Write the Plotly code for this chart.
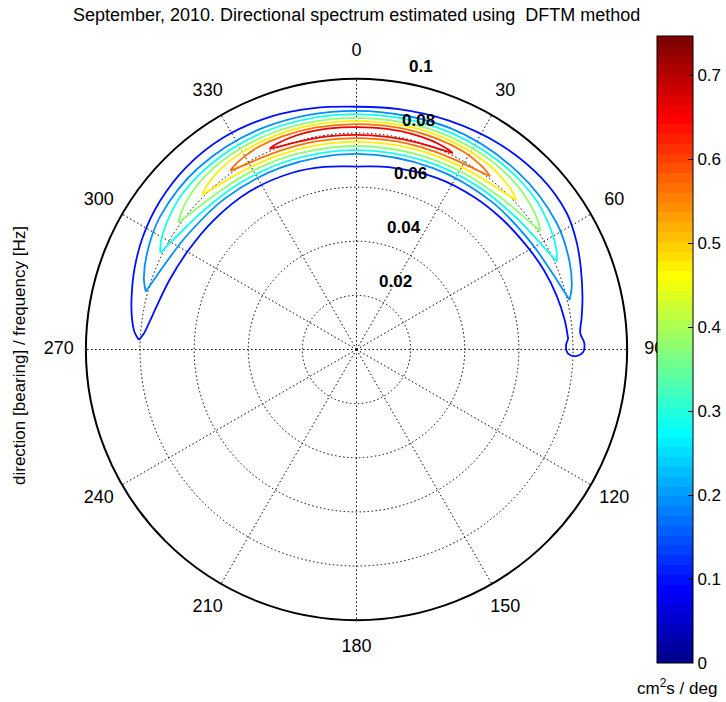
import math
import plotly.graph_objects as go

# ---------------- text ----------------
TITLE = "September, 2010. Directional spectrum estimated using  DFTM method"
Y_LABEL = "direction [bearing] / frequency [Hz]"
CB_TITLE = "cm<sup>2</sup>s / deg"

# ---------------- axes / scale values ----------------
ANGLE_TICKS = [0, 30, 60, 90, 120, 150, 180, 210, 240, 270, 300, 330]
ANGLE_TICK_TEXT = ["0", "30", "60", "90", "120", "150", "180", "210", "240", "270", "300", "330"]
RADIAL_TICKS = [0.02, 0.04, 0.06, 0.08, 0.1]
RADIAL_TICK_TEXT = ["0.02", "0.04", "0.06", "0.08", "0.1"]
R_MAX = 0.1
C_MIN = 0.0
C_MAX = 0.747
CB_TICKS = [0, 0.1, 0.2, 0.3, 0.4, 0.5, 0.6, 0.7]
CB_TICK_TEXT = ["0", "0.1", "0.2", "0.3", "0.4", "0.5", "0.6", "0.7"]

# contour levels (cm^2 s / deg)
LEVELS = [0.094, 0.187, 0.281, 0.374, 0.467, 0.561, 0.654]

# ---------------- contour lines: bearing [deg] / frequency [Hz] ----------------
# level 1
L1_outer_brg = [-87.5, -85.5, -82, -77, -70, -62, -53, -43, -32, -20, -10, 0, 10, 22, 35, 47, 57, 64, 70, 77, 82, 85.8, 88.4, 90.6, 91.7, 91.2, 89.0, 87.2]
L1_outer_hz = [0.0805, 0.0823, 0.0838, 0.0853, 0.0873, 0.0893, 0.0910, 0.0922, 0.0925, 0.0917, 0.0906, 0.0897, 0.0902, 0.0912, 0.0925, 0.0932, 0.0926, 0.0905, 0.0882, 0.0857, 0.0840, 0.0829, 0.0842, 0.0838, 0.0812, 0.0783, 0.0774, 0.0783]
L1_inner_brg = [-87.5, -86, -83, -78, -70, -60, -48, -34, -20, -10, 0, 10, 25, 38, 48, 58, 67, 75, 82, 87.2]
L1_inner_hz = [0.0805, 0.0790, 0.0774, 0.0756, 0.0738, 0.0722, 0.0712, 0.0705, 0.0695, 0.0685, 0.0676, 0.0684, 0.0700, 0.0712, 0.0722, 0.0735, 0.0752, 0.0766, 0.0777, 0.0783]
# level 2
L2_outer_brg = [-74.6, -71.6, -65.6, -56.0, -41.0, -22.4, 0, 23.1, 42.3, 57.7, 67.7, 73.8, 76.9]
L2_outer_hz = [0.0808, 0.0828, 0.0851, 0.0876, 0.0890, 0.0889, 0.0882, 0.0888, 0.0886, 0.0875, 0.0851, 0.0828, 0.0808]
L2_inner_brg = [-74.6, -71.6, -65.6, -56.0, -41.0, -22.4, 0, 23.1, 42.3, 57.7, 67.7, 73.8, 76.9]
L2_inner_hz = [0.0808, 0.0794, 0.0774, 0.0755, 0.0740, 0.0728, 0.0723, 0.0728, 0.0740, 0.0755, 0.0774, 0.0794, 0.0808]
# level 3
L3_outer_brg = [-63.8, -61.2, -56.1, -47.9, -35.1, -19.1, 0, 19.9, 36.5, 49.7, 58.3, 63.6, 66.3]
L3_outer_hz = [0.0808, 0.0825, 0.0844, 0.0864, 0.0872, 0.0873, 0.0870, 0.0873, 0.0872, 0.0864, 0.0844, 0.0825, 0.0808]
L3_inner_brg = [-63.8, -61.2, -56.1, -47.9, -35.1, -19.1, 0, 19.9, 36.5, 49.7, 58.3, 63.6, 66.3]
L3_inner_hz = [0.0808, 0.0797, 0.0780, 0.0764, 0.0751, 0.0741, 0.0737, 0.0741, 0.0751, 0.0764, 0.0780, 0.0797, 0.0808]
# level 4
L4_outer_brg = [-54.5, -52.3, -48.0, -40.9, -30.0, -16.4, 0, 17.2, 31.5, 42.9, 50.3, 54.9, 57.2]
L4_outer_hz = [0.0808, 0.0821, 0.0836, 0.0851, 0.0858, 0.0858, 0.0856, 0.0858, 0.0858, 0.0851, 0.0836, 0.0821, 0.0808]
L4_inner_brg = [-54.5, -52.3, -48.0, -40.9, -30.0, -16.4, 0, 17.2, 31.5, 42.9, 50.3, 54.9, 57.2]
L4_inner_hz = [0.0808, 0.0799, 0.0786, 0.0773, 0.0763, 0.0755, 0.0752, 0.0755, 0.0763, 0.0773, 0.0786, 0.0799, 0.0808]
# level 5
L5_outer_brg = [-44.8, -43.0, -39.4, -33.6, -24.6, -13.4, 0, 14.1, 25.8, 35.2, 41.3, 45.0, 46.9]
L5_outer_hz = [0.0808, 0.0818, 0.0829, 0.0840, 0.0845, 0.0846, 0.0844, 0.0846, 0.0845, 0.0840, 0.0829, 0.0818, 0.0808]
L5_inner_brg = [-44.8, -43.0, -39.4, -33.6, -24.6, -13.4, 0, 14.1, 25.8, 35.2, 41.3, 45.0, 46.9]
L5_inner_hz = [0.0808, 0.0801, 0.0792, 0.0783, 0.0775, 0.0770, 0.0767, 0.0770, 0.0775, 0.0783, 0.0792, 0.0801, 0.0808]
# level 6
L6_outer_brg = [-35.2, -33.8, -31.0, -26.4, -19.4, -10.6, 0, 11.3, 20.7, 28.2, 33.1, 36.1, 37.6]
L6_outer_hz = [0.0808, 0.0815, 0.0823, 0.0831, 0.0834, 0.0834, 0.0833, 0.0834, 0.0834, 0.0831, 0.0823, 0.0815, 0.0808]
L6_inner_brg = [-35.2, -33.8, -31.0, -26.4, -19.4, -10.6, 0, 11.3, 20.7, 28.2, 33.1, 36.1, 37.6]
L6_inner_hz = [0.0808, 0.0804, 0.0797, 0.0791, 0.0786, 0.0783, 0.0781, 0.0783, 0.0786, 0.0791, 0.0797, 0.0804, 0.0808]
# level 7
L7_outer_brg = [-23.4, -22.5, -20.6, -17.6, -12.9, -7.0, 0, 7.8, 14.4, 19.6, 23.0, 25.1, 26.1]
L7_outer_hz = [0.0808, 0.0812, 0.0816, 0.0820, 0.0823, 0.0823, 0.0822, 0.0823, 0.0823, 0.0820, 0.0816, 0.0812, 0.0808]
L7_inner_brg = [-23.4, -22.5, -20.6, -17.6, -12.9, -7.0, 0, 7.8, 14.4, 19.6, 23.0, 25.1, 26.1]
L7_inner_hz = [0.0808, 0.0806, 0.0802, 0.0799, 0.0796, 0.0794, 0.0793, 0.0794, 0.0796, 0.0799, 0.0802, 0.0806, 0.0808]

CONTOURS = [
    (L1_outer_brg, L1_outer_hz, L1_inner_brg, L1_inner_hz),
    (L2_outer_brg, L2_outer_hz, L2_inner_brg, L2_inner_hz),
    (L3_outer_brg, L3_outer_hz, L3_inner_brg, L3_inner_hz),
    (L4_outer_brg, L4_outer_hz, L4_inner_brg, L4_inner_hz),
    (L5_outer_brg, L5_outer_hz, L5_inner_brg, L5_inner_hz),
    (L6_outer_brg, L6_outer_hz, L6_inner_brg, L6_inner_hz),
    (L7_outer_brg, L7_outer_hz, L7_inner_brg, L7_inner_hz),
]

# ---------------- style ----------------
W, H = 726, 702
CX, CY, RPX = 357.0, 349.5, 271.0   # polar centre / radius in pixels
RLAB = 320.0                        # radius (px) of the label-carrying polar frame
FONT = "Liberation Sans, Arial, Helvetica, sans-serif"


def jet64():
    """MATLAB jet(64) colormap as a list of rgb tuples (0-1)."""
    m, n = 64, 16
    u = [(i + 1) / n for i in range(n)] + [1.0] * (n - 1) + [(n - i) / n for i in range(n)]
    r = [0.0] * m
    g = [0.0] * m
    b = [0.0] * m
    for j, val in enumerate(u):
        gi = 8 + j
        if 0 <= gi < m:
            g[gi] = val
        if 0 <= gi + n < m:
            r[gi + n] = val
        if 0 <= gi - n < m:
            b[gi - n] = val
    return list(zip(r, g, b))


JET = jet64()


def rgb(c):
    return "rgb(%d,%d,%d)" % tuple(round(v * 255) for v in c)


def level_color(v):
    idx = int((v - C_MIN) / (C_MAX - C_MIN) * len(JET))
    idx = max(0, min(len(JET) - 1, idx))
    return rgb(JET[idx])


colorscale = []
for i, c in enumerate(JET):
    colorscale.append([i / len(JET), rgb(c)])
    colorscale.append([(i + 1) / len(JET), rgb(c)])

fig = go.Figure()

for lev, (ob, oh, ib, ih) in zip(LEVELS, CONTOURS):
    fig.add_trace(go.Scatterpolar(
        theta=list(ob) + [None] + list(ib),
        r=list(oh) + [None] + list(ih),
        mode="lines",
        line=dict(color=level_color(lev), width=1.8, shape="spline", smoothing=1.0),
        hoverinfo="skip",
        showlegend=False,
        subplot="polar",
    ))

# angular tick labels at 1.1 * rmax (MATLAB polar style), drawn in a larger
# transparent polar frame so the colour bar can overlap them like the original
fig.add_trace(go.Scatterpolar(
    r=[1.1 * R_MAX] * len(ANGLE_TICKS), theta=ANGLE_TICKS,
    mode="text", text=ANGLE_TICK_TEXT, textposition="middle center",
    textfont=dict(family=FONT, size=18, color="black"),
    cliponaxis=False, hoverinfo="skip", showlegend=False,
    subplot="polar2",
))

# colour bar carrier
fig.add_trace(go.Scatterpolar(
    r=[0], theta=[0], mode="markers",
    marker=dict(size=1, opacity=0, color=[C_MIN], cmin=C_MIN, cmax=C_MAX,
                colorscale=colorscale, showscale=True,
                colorbar=dict(
                    x=656.7 / W, xanchor="left", xpad=0,
                    y=1 - 663 / H, yanchor="bottom", ypad=0,
                    len=(663 - 36) / H, lenmode="fraction",
                    thickness=36, thicknessmode="pixels",
                    outlinecolor="black", outlinewidth=1,
                    tickvals=CB_TICKS, ticktext=CB_TICK_TEXT,
                    ticks="inside", ticklen=5, tickcolor="black",
                    tickfont=dict(family=FONT, size=17, color="black"),
                )),
    hoverinfo="skip", showlegend=False, subplot="polar",
))

grid_dash = "1.5px,2.5px"
hidden_axis = dict(showgrid=False, showline=False, showticklabels=False, ticks="")
fig.update_layout(
    width=W, height=H,
    margin=dict(l=0, r=0, t=0, b=0),
    paper_bgcolor="white", plot_bgcolor="white",
    showlegend=False,
    polar=dict(
        domain=dict(x=[(CX - RPX) / W, (CX + RPX) / W],
                    y=[1 - (CY + RPX) / H, 1 - (CY - RPX) / H]),
        bgcolor="white",
        angularaxis=dict(
            rotation=90, direction="clockwise",
            tickvals=ANGLE_TICKS, showticklabels=False, ticks="",
            showline=True, linecolor="black", linewidth=2,
            showgrid=True, gridcolor="black", gridwidth=1.2, griddash=grid_dash,
        ),
        radialaxis=dict(
            range=[0, R_MAX], tickvals=RADIAL_TICKS,
            showticklabels=False, ticks="", showline=False,
            showgrid=True, gridcolor="black", gridwidth=1.2, griddash=grid_dash,
        ),
    ),
    polar2=dict(
        domain=dict(x=[(CX - RLAB) / W, (CX + RLAB) / W],
                    y=[1 - (CY + RLAB) / H, 1 - (CY - RLAB) / H]),
        bgcolor="rgba(0,0,0,0)",
        angularaxis=dict(rotation=90, direction="clockwise", **hidden_axis),
        radialaxis=dict(range=[0, R_MAX * RLAB / RPX], **hidden_axis),
    ),
)

annotations = []
# radial labels at 82 degrees (MATLAB polar style)
c82, s82 = math.cos(math.radians(82)), math.sin(math.radians(82))
for v, txt in zip(RADIAL_TICKS, RADIAL_TICK_TEXT):
    rp = v / R_MAX * RPX
    px = CX + rp * c82 + 13
    py = CY - rp * s82 - 14.5
    annotations.append(dict(x=px / W, y=1 - py / H, xref="paper", yref="paper",
                            text="<b>%s</b>" % txt, showarrow=False, xanchor="left", yanchor="middle",
                            font=dict(family=FONT, size=17, color="black")))
# title, y-label, colour-bar unit
annotations.append(dict(x=CX / W, y=1 - 15 / H, xref="paper", yref="paper", text=TITLE,
                        showarrow=False, xanchor="center", yanchor="middle",
                        font=dict(family=FONT, size=18, color="black")))
annotations.append(dict(x=19 / W, y=1 - 355 / H, xref="paper", yref="paper", text=Y_LABEL,
                        showarrow=False, xanchor="center", yanchor="middle", textangle=-90,
                        font=dict(family=FONT, size=17, color="black")))
annotations.append(dict(x=678 / W, y=1 - 687 / H, xref="paper", yref="paper", text=CB_TITLE,
                        showarrow=False, xanchor="center", yanchor="middle",
                        font=dict(family=FONT, size=17, color="black")))
fig.update_layout(annotations=annotations)

fig.write_html("out.html")
